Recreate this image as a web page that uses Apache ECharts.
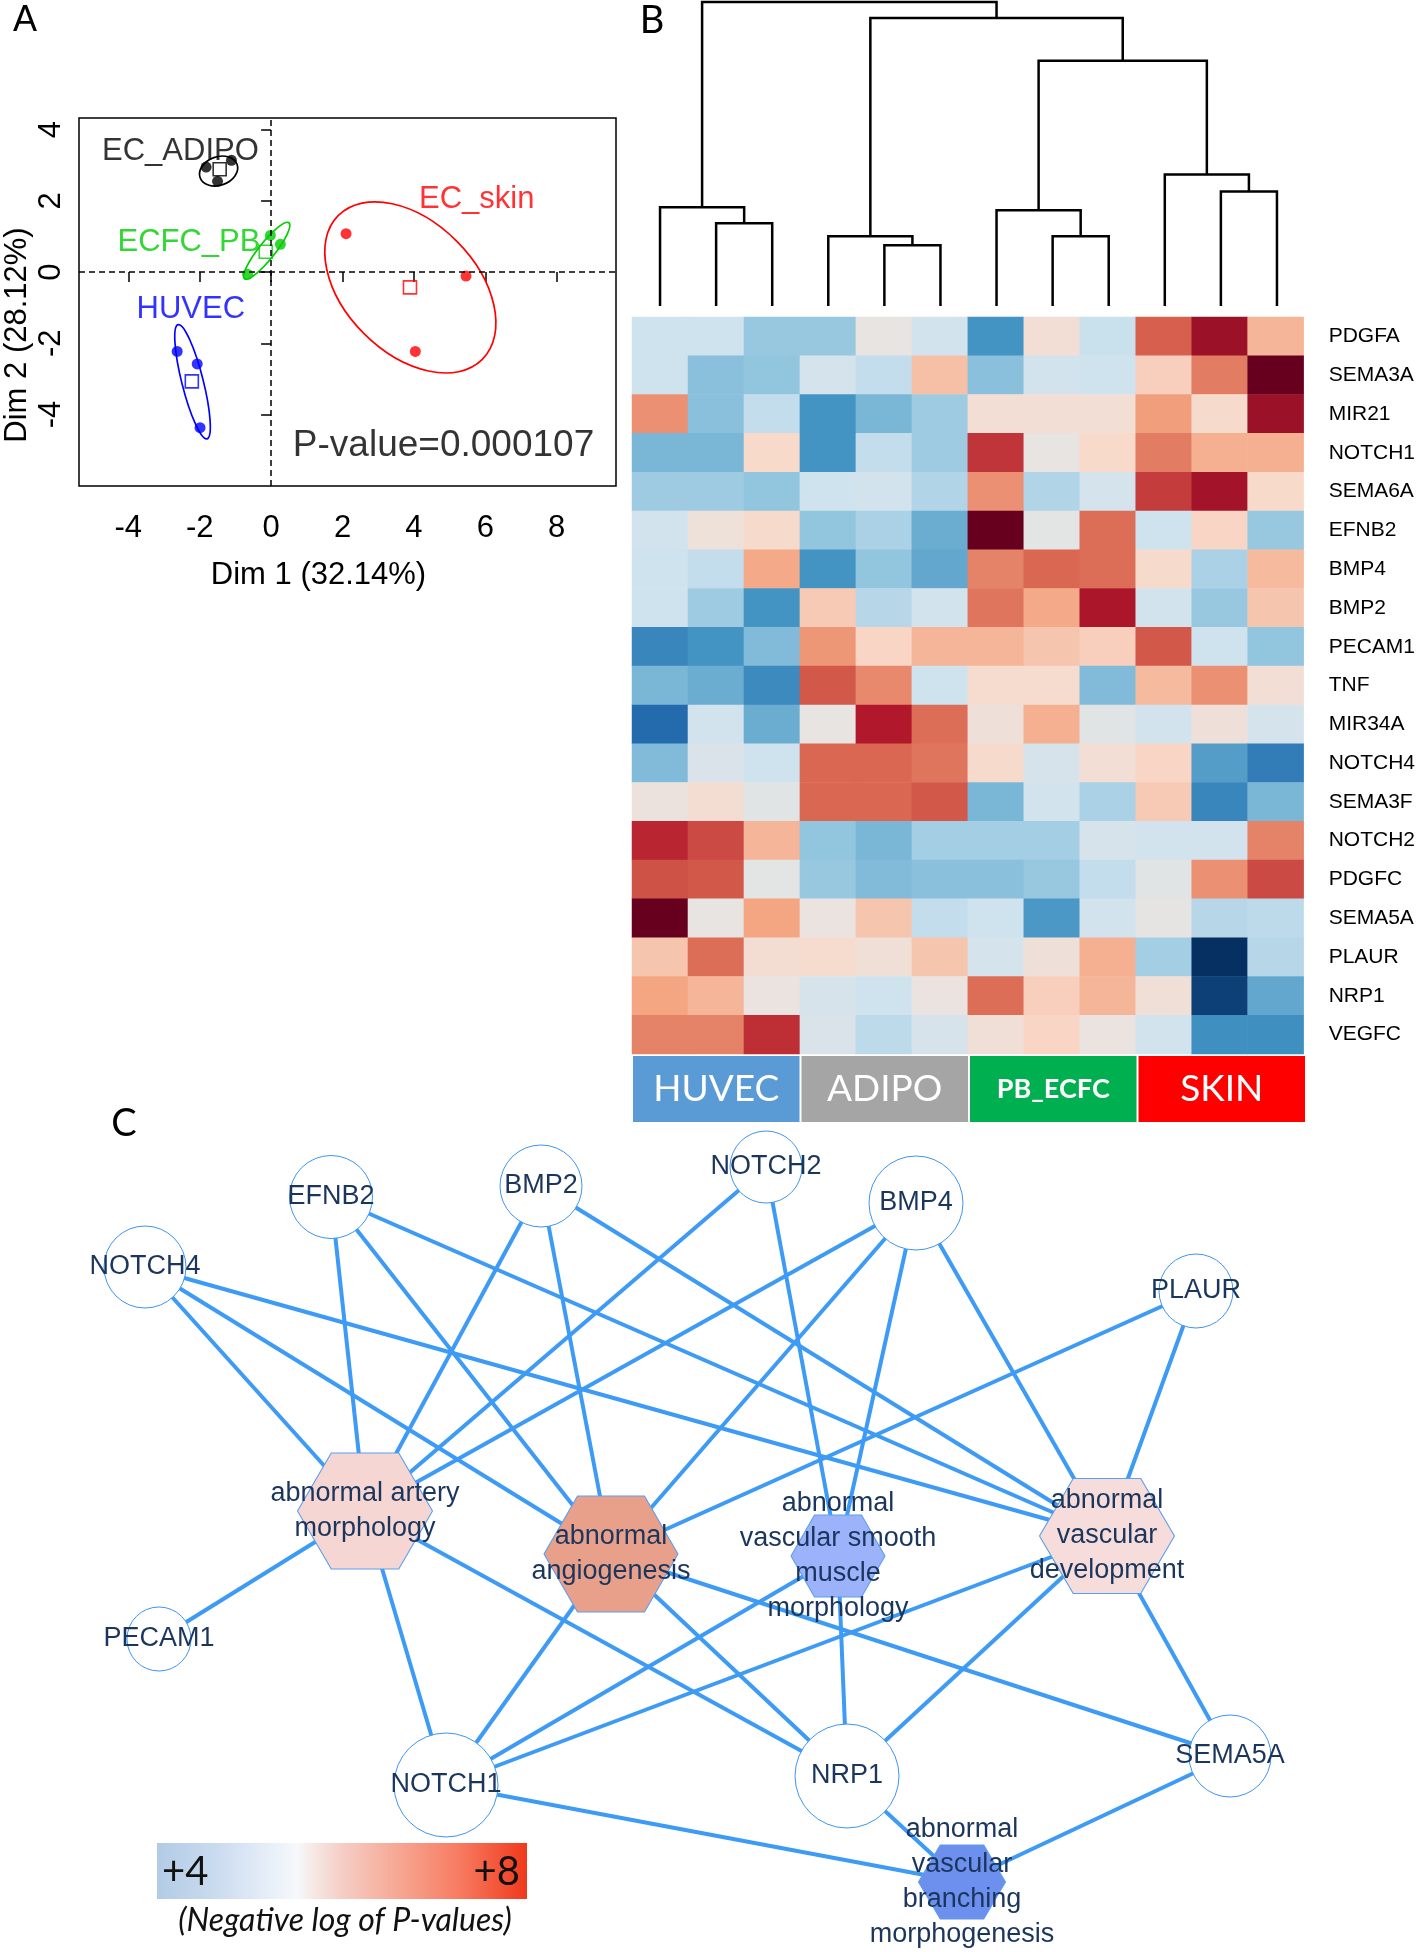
<!DOCTYPE html>
<html><head><meta charset="utf-8">
<script src="https://cdn.jsdelivr.net/npm/echarts@6/dist/echarts.min.js"></script>
<style>html,body{margin:0;padding:0;background:#fff}#main{width:1418px;height:1952px}</style>
</head><body><div id="main"></div>
<script>
// ================= DATA =================
// ---- Panel A : PCA ----
const pcaGroups = ['EC_ADIPO', 'ECFC_PB', 'HUVEC', 'EC_skin'];
const dim1Adipo = [-1.82, -1.11, -1.50];
const dim2Adipo = [2.95, 3.14, 2.55];
const dim1Pb = [-0.02, 0.26, -0.66];
const dim2Pb = [1.03, 0.78, -0.06];
const dim1Huvec = [-2.63, -2.07, -1.99];
const dim2Huvec = [-2.23, -2.58, -4.37];
const dim1Skin = [2.10, 5.46, 4.04];
const dim2Skin = [1.08, -0.11, -2.23];
const centroidDim1 = [-1.44, -0.15, -2.22, 3.89];
const centroidDim2 = [2.89, 0.57, -3.07, -0.43];
// confidence ellipses (centre, semi-axes, angle in degrees)
const ellipseCx = [-1.47, -0.12, -2.20, 3.90];
const ellipseCy = [2.84, 0.60, -3.08, -0.43];
const ellipseA = [0.55, 1.00, 1.65, 2.85];
const ellipseB = [0.40, 0.23, 0.30, 1.84];
const ellipseAngle = [20, 51.6, -75.8, -45];
const groupLabelX = [-2.54, -2.30, -2.25, 5.76];
const groupLabelY = [3.38, 0.83, -1.04, 2.04];
const pcaXTicks = [-4, -2, 0, 2, 4, 6, 8];
const pcaYTicks = [-4, -2, 0, 2, 4];
const pValueText = 'P-value=0.000107';
const pValuePos = [4.83, -4.87];

// ---- Panel B : heatmap ----
const samples = ['HUVEC 1','HUVEC 2','HUVEC 3','ADIPO 1','ADIPO 2','ADIPO 3','PB_ECFC 1','PB_ECFC 2','PB_ECFC 3','SKIN 1','SKIN 2','SKIN 3'];
const genes = ['PDGFA','SEMA3A','MIR21','NOTCH1','SEMA6A','EFNB2','BMP4','BMP2','PECAM1','TNF','MIR34A','NOTCH4','SEMA3F','NOTCH2','PDGFC','SEMA5A','PLAUR','NRP1','VEGFC'];
const heatRows = [
  [-1.0,-1.0,-1.9,-1.9, 0.0,-0.9,-3.0, 0.6,-1.1, 3.0, 4.3, 1.7],
  [-1.0,-2.1,-2.0,-0.8,-1.2, 1.5,-2.1,-0.9,-1.0, 1.2, 2.6, 5.0],
  [ 2.3,-2.1,-1.2,-3.0,-2.3,-1.8, 0.6, 0.6, 0.6, 2.1, 0.9, 4.3],
  [-2.3,-2.3, 1.0,-3.0,-1.2,-1.8, 3.6, 0.0, 1.0, 2.6, 1.8, 1.8],
  [-1.8,-1.8,-2.0,-1.0,-0.9,-1.5, 2.3,-1.5,-0.8, 3.5, 4.2, 1.0],
  [-0.9, 0.3, 0.9,-2.0,-1.6,-2.5, 5.0,-0.2, 2.8,-1.0, 1.1,-1.9],
  [-1.0,-1.2, 1.9,-3.0,-2.0,-2.6, 2.5, 2.9, 2.8, 0.9,-1.6, 1.6],
  [-1.0,-1.8,-3.0, 1.3,-1.4,-0.9, 2.7, 1.9, 4.1,-0.9,-1.9, 1.4],
  [-3.3,-3.0,-2.2, 2.2, 1.1, 1.7, 1.7, 1.4, 1.2, 3.1,-1.0,-2.0],
  [-2.3,-2.5,-3.2, 3.1, 2.4,-1.0, 0.8, 0.8,-2.2, 1.6, 2.3, 0.6],
  [-3.9,-0.9,-2.5, 0.0, 4.0, 2.8, 0.4, 1.8,-0.3,-0.9, 0.4,-0.8],
  [-2.2,-0.6,-1.0, 2.9, 2.9, 2.7, 0.9,-0.7, 0.6, 1.1,-2.8,-3.5],
  [ 0.2, 0.7,-0.3, 2.9, 2.9, 3.1,-2.3,-0.9,-1.6, 1.3,-3.3,-2.3],
  [ 3.8, 3.3, 1.7,-2.0,-2.3,-1.7,-1.7,-1.7,-0.7,-0.9,-0.9, 2.5],
  [ 3.2, 3.1,-0.2,-1.9,-2.2,-2.1,-2.1,-1.9,-1.2,-0.3, 2.3, 3.3],
  [ 5.0, 0.0, 2.0, 0.1, 1.4,-1.2,-1.0,-2.9,-0.9,-0.1,-1.4,-1.3],
  [ 1.4, 2.8, 0.7, 0.8, 0.5, 1.4,-0.8, 0.4, 1.8,-1.7,-5.0,-1.4],
  [ 2.0, 1.7, 0.1,-0.7,-1.0, 0.1, 2.8, 1.2, 1.7, 0.5,-4.7,-2.6],
  [ 2.5, 2.5, 3.7,-0.6,-1.3,-0.7, 0.5, 1.1, 0.1,-0.9,-3.1,-3.1]
];
const sampleGroups = ['HUVEC', 'ADIPO', 'PB_ECFC', 'SKIN'];
// dendrogram merges: leaves are 0..11, merge k gets id 12+k
const mergeLeft   = [1, 0, 4, 3, 7, 6, 10, 9, 17, 15, 13];
const mergeRight  = [2, 12, 5, 14, 8, 16, 11, 18, 19, 20, 21];
const mergeHeight = [83, 99, 61, 70, 70, 96, 115, 132, 246, 289, 305];

// ---- Panel C : network ----
const geneNodes = ['NOTCH4','EFNB2','BMP2','NOTCH2','BMP4','PLAUR','PECAM1','NOTCH1','NRP1','SEMA5A'];
const termNodes = ['abnormal artery morphology','abnormal angiogenesis','abnormal vascular smooth muscle morphology','abnormal vascular development','abnormal vascular branching morphogenesis'];
const edgeGene = ['NOTCH4','NOTCH4','NOTCH4','EFNB2','EFNB2','EFNB2','BMP2','BMP2','BMP2','NOTCH2','NOTCH2','BMP4','BMP4','BMP4','BMP4','PLAUR','PLAUR','PECAM1','NOTCH1','NOTCH1','NOTCH1','NOTCH1','NOTCH1','NRP1','NRP1','NRP1','NRP1','NRP1','SEMA5A','SEMA5A','SEMA5A'];
const edgeTerm = ['abnormal artery morphology','abnormal angiogenesis','abnormal vascular development',
  'abnormal artery morphology','abnormal angiogenesis','abnormal vascular development',
  'abnormal artery morphology','abnormal angiogenesis','abnormal vascular development',
  'abnormal artery morphology','abnormal vascular smooth muscle morphology',
  'abnormal artery morphology','abnormal angiogenesis','abnormal vascular smooth muscle morphology','abnormal vascular development',
  'abnormal angiogenesis','abnormal vascular development',
  'abnormal artery morphology',
  'abnormal artery morphology','abnormal angiogenesis','abnormal vascular smooth muscle morphology','abnormal vascular development','abnormal vascular branching morphogenesis',
  'abnormal artery morphology','abnormal angiogenesis','abnormal vascular smooth muscle morphology','abnormal vascular development','abnormal vascular branching morphogenesis',
  'abnormal angiogenesis','abnormal vascular development','abnormal vascular branching morphogenesis'];
const legendLow = '+4', legendHigh = '+8', legendCaption = '(Negative log of P-values)';

// ================= STYLE / LAYOUT =================
const FONT = '"Liberation Sans", Arial, Helvetica, sans-serif';
const FONT2 = 'Lato, "Open Sans", sans-serif';
const NAVY = '#1b365d';
const groupColors = ['#000000', '#00cd00', '#0000ff', '#ff0000'];
const barColors = {HUVEC: '#5b9bd5', ADIPO: '#a5a5a5', PB_ECFC: '#00b050', SKIN: '#ff0000'};
const rdbu = ['#053061','#2166ac','#4393c3','#92c5de','#cfe3ef','#e8e4e1','#f8dacb','#f4a582','#d6604d','#b2182b','#67001f'];
const nodePos = {
  NOTCH4: [145, 1267], EFNB2: [331, 1197], BMP2: [541, 1186], NOTCH2: [766, 1167], BMP4: [916, 1203],
  PLAUR: [1196, 1291], PECAM1: [159, 1639], NOTCH1: [446, 1785], NRP1: [847, 1776], SEMA5A: [1230, 1756],
  'abnormal artery morphology': [365, 1511], 'abnormal angiogenesis': [611, 1554],
  'abnormal vascular smooth muscle morphology': [838, 1556], 'abnormal vascular development': [1107, 1536],
  'abnormal vascular branching morphogenesis': [962, 1882]
};
const nodeSize = {
  NOTCH4: 82, EFNB2: 83, BMP2: 82, NOTCH2: 72, BMP4: 94, PLAUR: 74, PECAM1: 64, NOTCH1: 104, NRP1: 104, SEMA5A: 82,
  'abnormal artery morphology': [135, 116], 'abnormal angiogenesis': [134, 116],
  'abnormal vascular smooth muscle morphology': [94, 82], 'abnormal vascular development': [135, 115],
  'abnormal vascular branching morphogenesis': [87, 74]
};
const termColor = {
  'abnormal artery morphology': '#f5d6d2', 'abnormal angiogenesis': '#e8a08b',
  'abnormal vascular smooth muscle morphology': '#9cb2fb', 'abnormal vascular development': '#f6dcda',
  'abnormal vascular branching morphogenesis': '#6d8fee'
};
const termLabel = {
  'abnormal artery morphology': 'abnormal artery\nmorphology',
  'abnormal angiogenesis': 'abnormal\nangiogenesis',
  'abnormal vascular smooth muscle morphology': 'abnormal\nvascular smooth\nmuscle\nmorphology',
  'abnormal vascular development': 'abnormal\nvascular\ndevelopment',
  'abnormal vascular branching morphogenesis': 'abnormal\nvascular\nbranching\nmorphogenesis'
};
const HEX = 'path://M-2,0 L-1,-1.732 L1,-1.732 L2,0 L1,1.732 L-1,1.732 Z';

// ================= BUILD =================
const chart = echarts.init(document.getElementById('main'), null, {renderer: 'canvas', width: 1418, height: 1952});

const zip = (a, b) => a.map((v, i) => [v, b[i]]);
const pcaPoints = [zip(dim1Adipo, dim2Adipo), zip(dim1Pb, dim2Pb), zip(dim1Huvec, dim2Huvec), zip(dim1Skin, dim2Skin)];

const heatData = [];
heatRows.forEach((row, r) => row.forEach((v, c) => heatData.push([c, r, v])));

// dendrogram node positions
const nodeX = [], nodeH = [];
for (let i = 0; i < 12; i++) { nodeX[i] = i; nodeH[i] = 0; }
const dendroSegs = mergeLeft.map((l, k) => {
  const r = mergeRight[k];
  const seg = [nodeX[l], nodeH[l], nodeX[r], nodeH[r], mergeHeight[k]];
  nodeX[12 + k] = (nodeX[l] + nodeX[r]) / 2;
  nodeH[12 + k] = mergeHeight[k];
  return seg;
});

// network
const allNodes = geneNodes.concat(termNodes);
const xs = allNodes.map(n => nodePos[n][0]), ys = allNodes.map(n => nodePos[n][1]);
const minX = Math.min(...xs), maxX = Math.max(...xs), minY = Math.min(...ys), maxY = Math.max(...ys);
const graphNodes = allNodes.map(n => {
  const isTerm = termNodes.indexOf(n) >= 0;
  return {
    name: n, x: nodePos[n][0], y: nodePos[n][1],
    symbol: isTerm ? HEX : 'circle',
    symbolSize: nodeSize[n],
    symbolKeepAspect: false,
    itemStyle: isTerm ? {color: termColor[n], borderColor: '#5a9ef0', borderWidth: 1}
                      : {color: '#ffffff', borderColor: '#3d95ee', borderWidth: 1},
    label: {
      show: true, position: 'inside', formatter: isTerm ? termLabel[n] : n,
      fontSize: isTerm ? 27 : 27, lineHeight: isTerm ? 35 : 30, color: NAVY, fontFamily: FONT
    }
  };
});
const graphLinks = edgeGene.map((g, i) => ({source: g, target: edgeTerm[i]}));

const option = {
  animation: false,
  backgroundColor: '#ffffff',
  grid: [
    {left: 79, top: 118, width: 537, height: 368, show: true, borderColor: '#000', borderWidth: 1.5, backgroundColor: 'transparent'},
    {left: 632, top: 317, width: 673, height: 737},
    {left: 632, top: 1, width: 673, height: 305},
    {left: 632, top: 1055, width: 674, height: 68}
  ],
  xAxis: [
    {gridIndex: 0, type: 'value', min: -5.38, max: 9.66,
     axisLine: {show: false}, splitLine: {show: false},
     axisTick: {show: true, length: 10, customValues: pcaXTicks, lineStyle: {color: '#000', width: 1.5}},
     axisLabel: {customValues: pcaXTicks, fontSize: 31, color: '#000', fontFamily: FONT, margin: 27},
     name: 'Dim 1 (32.14%)', nameLocation: 'middle', nameGap: 74, nameMoveOverlap: false,
     nameTextStyle: {fontSize: 31, color: '#000', fontFamily: FONT, padding: [0, 58, 0, 0]}},
    {gridIndex: 1, type: 'category', data: samples, show: false},
    {gridIndex: 2, type: 'value', min: -0.5, max: 11.5, show: false},
    {gridIndex: 3, type: 'category', data: sampleGroups, show: false}
  ],
  yAxis: [
    {gridIndex: 0, type: 'value', min: -6.01, max: 4.33,
     axisLine: {show: false}, splitLine: {show: false},
     axisTick: {show: true, length: 10, customValues: pcaYTicks, lineStyle: {color: '#000', width: 1.5}},
     axisLabel: {customValues: pcaYTicks, rotate: 90, fontSize: 31, color: '#000', fontFamily: FONT, margin: 12},
     name: 'Dim 2 (28.12%)', nameLocation: 'middle', nameGap: 46, nameMoveOverlap: false,
     nameTextStyle: {fontSize: 31, color: '#000', fontFamily: FONT, padding: [0, 66, 0, 0]}},
    {gridIndex: 1, type: 'category', data: genes, inverse: true, position: 'right',
     axisLine: {show: false}, axisTick: {show: false}, splitLine: {show: false},
     axisLabel: {fontSize: 21, color: '#000', fontFamily: FONT, margin: 25}},
    {gridIndex: 2, type: 'value', min: 0, max: 306, show: false},
    {gridIndex: 3, type: 'value', min: 0, max: 1, show: false}
  ],
  visualMap: [{
    type: 'continuous', show: false, min: -5, max: 5, seriesIndex: 7, dimension: 2,
    inRange: {color: rdbu}
  }],
  series: [
    // 0: ellipses
    {type: 'custom', xAxisIndex: 0, yAxisIndex: 0, silent: true,
     data: ellipseCx.map((c, i) => [c, ellipseCy[i], ellipseA[i], ellipseB[i], ellipseAngle[i], i]),
     renderItem: (params, api) => {
       const c = api.coord([api.value(0), api.value(1)]);
       const s = api.size([api.value(2), api.value(3)]);
       return {type: 'ellipse', x: c[0], y: c[1], rotation: api.value(4) * Math.PI / 180,
               shape: {cx: 0, cy: 0, rx: s[0], ry: s[1]},
               style: {fill: 'none', stroke: groupColors[api.value(5)], lineWidth: 1.7}};
     },
     markLine: {silent: true, symbol: 'none', label: {show: false},
       lineStyle: {type: [6, 4], color: '#000', width: 1.5},
       data: [{xAxis: 0}, {yAxis: 0}]}
    },
    // 1-4: group points
    ...pcaPoints.map((pts, i) => ({
      type: 'scatter', name: pcaGroups[i], xAxisIndex: 0, yAxisIndex: 0, silent: true,
      data: pts, symbol: 'circle', symbolSize: 11, itemStyle: {color: groupColors[i]}
    })),
    // 5: centroids
    {type: 'scatter', xAxisIndex: 0, yAxisIndex: 0, silent: true, symbol: 'rect', symbolSize: 13,
     data: centroidDim1.map((x, i) => ({value: [x, centroidDim2[i]],
       itemStyle: {color: 'rgba(255,255,255,0)', borderColor: groupColors[i], borderWidth: 1.6}}))},
    // 6: text labels
    {type: 'scatter', xAxisIndex: 0, yAxisIndex: 0, silent: true, symbolSize: 0,
     data: pcaGroups.map((g, i) => ({value: [groupLabelX[i], groupLabelY[i]],
       label: {show: true, position: 'inside', formatter: g, color: groupColors[i], fontSize: 31, fontFamily: FONT}}))
       .concat([{value: pValuePos, label: {show: true, position: 'inside', formatter: pValueText, color: '#000', fontSize: 37, fontFamily: FONT}}])},
    // 7: heatmap
    {type: 'heatmap', xAxisIndex: 1, yAxisIndex: 1, data: heatData, silent: true,
     itemStyle: {borderWidth: 0}, emphasis: {disabled: true}},
    // 8: dendrogram
    {type: 'custom', xAxisIndex: 2, yAxisIndex: 2, silent: true, data: dendroSegs,
     renderItem: (params, api) => {
       const p1 = api.coord([api.value(0), api.value(1)]);
       const p2 = api.coord([api.value(0), api.value(4)]);
       const p3 = api.coord([api.value(2), api.value(4)]);
       const p4 = api.coord([api.value(2), api.value(3)]);
       return {type: 'polyline', shape: {points: [p1, p2, p3, p4]},
               style: {fill: 'none', stroke: '#000', lineWidth: 2.5}};
     }},
    // 9: group colour bar
    {type: 'bar', xAxisIndex: 3, yAxisIndex: 3, silent: true, barCategoryGap: 0,
     data: sampleGroups.map(g => ({value: 1,
       itemStyle: {color: barColors[g], borderColor: '#fff', borderWidth: 1},
       label: {show: true, position: 'inside', formatter: g, color: '#fff', fontFamily: FONT2,
               fontSize: g === 'PB_ECFC' ? 27 : 37, fontWeight: g === 'PB_ECFC' ? 'bold' : 'normal'}}))},
    // 10: network
    {type: 'graph', layout: 'none', roam: false, silent: true,
     left: minX, top: minY, width: maxX - minX, height: maxY - minY,
     data: graphNodes, links: graphLinks,
     edgeSymbol: ['none', 'none'],
     lineStyle: {color: '#3d9bf5', width: 4, opacity: 1, curveness: 0},
     emphasis: {disabled: true}}
  ],
  graphic: [
    {type: 'text', x: 25, y: 21, style: {text: 'A', font: '36px ' + FONT, fill: '#000', textAlign: 'center', textVerticalAlign: 'middle'}},
    {type: 'text', x: 652, y: 21, style: {text: 'B', font: '38px ' + FONT2, fill: '#000', textAlign: 'center', textVerticalAlign: 'middle'}},
    {type: 'text', x: 124, y: 1124, style: {text: 'C', font: '38px ' + FONT2, fill: '#000', textAlign: 'center', textVerticalAlign: 'middle'}},
    {type: 'rect', shape: {x: 157, y: 1843, width: 370, height: 56},
     style: {fill: new echarts.graphic.LinearGradient(0, 0, 1, 0, [
       {offset: 0, color: '#b2cbe5'}, {offset: 0.15, color: '#c8daee'}, {offset: 0.3, color: '#e6eef8'},
       {offset: 0.38, color: '#f6f8fb'}, {offset: 0.43, color: '#f6e6e1'}, {offset: 0.5, color: '#f5cec6'},
       {offset: 0.66, color: '#f6a590'}, {offset: 0.82, color: '#f77a60'}, {offset: 1, color: '#f0391b'}])}},
    {type: 'text', x: 162, y: 1872, style: {text: legendLow, font: '40px ' + FONT2, fill: '#111', textAlign: 'left', textVerticalAlign: 'middle'}},
    {type: 'text', x: 520, y: 1872, style: {text: legendHigh, font: '40px ' + FONT2, fill: '#111', textAlign: 'right', textVerticalAlign: 'middle'}},
    {type: 'text', x: 345, y: 1921, style: {text: legendCaption, font: 'italic 32px ' + FONT2, fill: '#111', textAlign: 'center', textVerticalAlign: 'middle'}}
  ]
};
chart.setOption(option);
</script></body></html>
